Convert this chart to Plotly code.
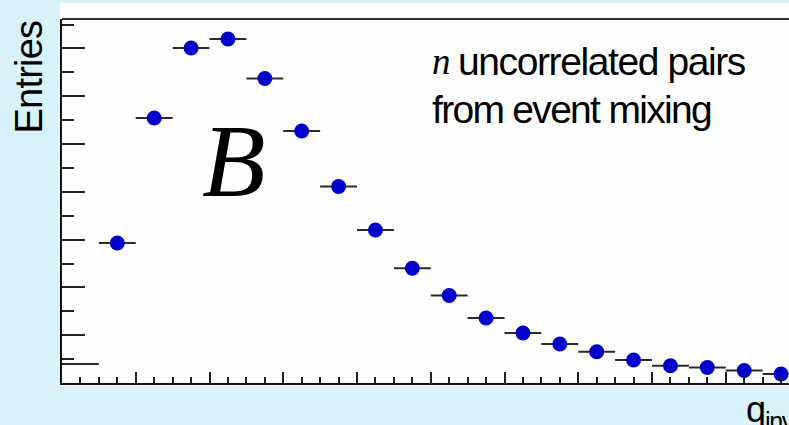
import plotly.graph_objects as go

# Invariant-momentum bins (GeV) and entries for mixed-event pairs
q_inv = [0.005, 0.015, 0.025, 0.035, 0.045, 0.055, 0.065, 0.075, 0.085, 0.095,
         0.105, 0.115, 0.125, 0.135, 0.145, 0.155, 0.165, 0.175, 0.185, 0.195]
entries = [397, 2929, 5544, 7008, 7197, 6370, 5272, 4111, 3201, 2400,
           1831, 1360, 1046, 816, 655, 481, 362, 324, 262, 188]
bin_half_width = 0.005

W, H = 789, 425
ML, MR, MT, MB = 62, 0, 19, 42
PW, PH = W - ML - MR, H - MT - MB


def px(x):
    return (x - ML) / PW


def py(y):
    return (H - MB - y) / PH


def tight(text, spacing):
    return f'<span style="letter-spacing:{spacing}px">{text}</span>'


# first bin is drawn as its error bar only
sizes = [0] + [15] * (len(q_inv) - 1)

fig = go.Figure(
    go.Scatter(
        x=q_inv,
        y=entries,
        mode="markers",
        marker=dict(color="#0000c8", size=sizes, opacity=1, line=dict(width=0)),
        error_x=dict(type="constant", value=bin_half_width, thickness=2,
                     width=0, color="#2a2a2a"),
        cliponaxis=True,
        showlegend=False,
    )
)

fig.update_layout(
    width=W,
    height=H,
    margin=dict(l=ML, r=MR, t=MT, b=MB, pad=0),
    paper_bgcolor="#d8f1fb",
    plot_bgcolor="#fdfdfd",
    font=dict(family="Liberation Sans", color="black"),
    xaxis=dict(
        range=[0, 0.19715], showgrid=False, zeroline=False,
        showline=True, linecolor="#111", linewidth=2,
        ticks="inside", ticklen=11, tickwidth=2, tickcolor="#222",
        tick0=0, dtick=0.02, showticklabels=False,
        minor=dict(ticks="inside", ticklen=6, tickwidth=2, tickcolor="#222",
                   dtick=0.005, showgrid=False),
    ),
    yaxis=dict(
        range=[0, 7615], showgrid=False, zeroline=False,
        showline=True, linecolor="#111", linewidth=2,
        ticks="inside", ticklen=23, tickwidth=2, tickcolor="#222",
        tick0=0, dtick=1000, showticklabels=False,
        minor=dict(ticks="inside", ticklen=12, tickwidth=2, tickcolor="#222",
                   dtick=500, showgrid=False),
    ),
    shapes=[
        # white pad behind the frame
        dict(type="rect", xref="paper", yref="paper",
             x0=px(60), x1=px(800), y0=py(386), y1=py(3),
             fillcolor="#fdfdfd", line=dict(width=0), layer="below"),
        # top edge of the frame
        dict(type="line", xref="paper", yref="paper",
             x0=0, x1=1, y0=1, y1=1, line=dict(color="#333", width=2)),
    ],
    annotations=[
        dict(text=tight("Entries", -0.8), textangle=-90, xref="paper", yref="paper",
             x=px(28), y=py(19), xanchor="center", yanchor="top",
             showarrow=False, font=dict(size=38)),
        dict(text=tight("q", -1) + "<sub>" + tight("inv", -1.5) + "</sub>",
             xref="paper", yref="paper",
             x=px(744), y=py(387), xanchor="left", yanchor="top",
             showarrow=False, font=dict(size=36)),
        dict(text="<i>n</i>", xref="paper", yref="paper",
             x=px(430), y=py(61), xanchor="left", yanchor="middle",
             showarrow=False, font=dict(size=37, family="Liberation Serif")),
        dict(text=tight("uncorrelated pairs", -1.4), xref="paper", yref="paper",
             x=px(456), y=py(61), xanchor="left", yanchor="middle",
             showarrow=False, font=dict(size=39)),
        dict(text=tight("from event mixing", -1.7), xref="paper", yref="paper",
             x=px(430), y=py(109), xanchor="left", yanchor="middle",
             showarrow=False, font=dict(size=39)),
        dict(text="<i>B</i>", xref="paper", yref="paper",
             x=px(200), y=py(161), xanchor="left", yanchor="middle",
             showarrow=False, font=dict(size=104, family="Liberation Serif")),
    ],
)

fig.write_html("out.html")
